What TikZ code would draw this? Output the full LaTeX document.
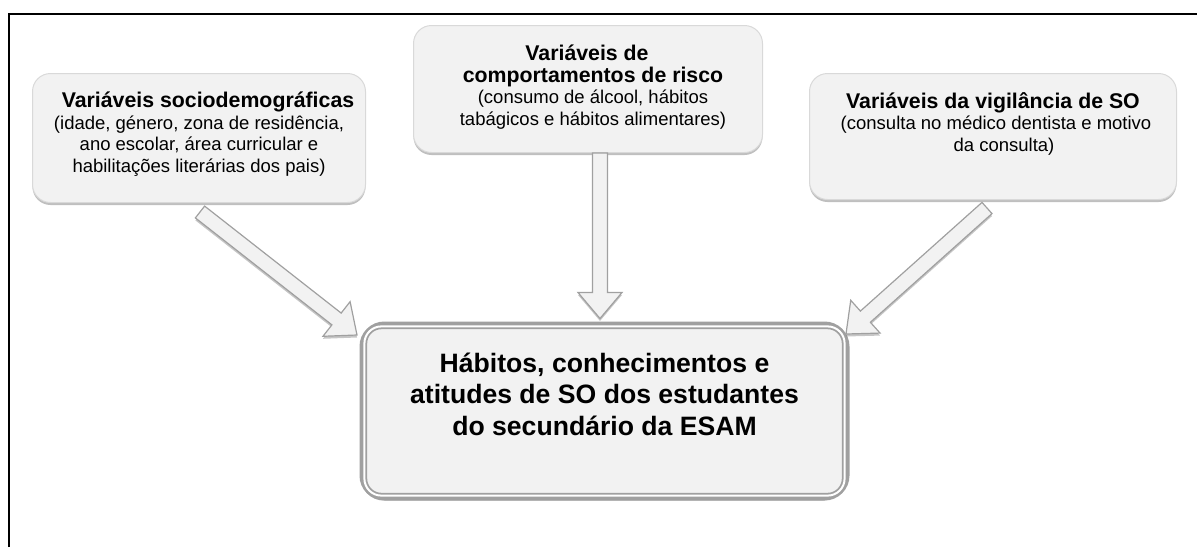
\documentclass[tikz,border=0pt]{standalone}
\usepackage{fontspec}
\setmainfont{Liberation Sans}
\usetikzlibrary{positioning,calc,shadows}
\definecolor{boxfill}{HTML}{F2F2F2}
\definecolor{boxline}{HTML}{D9D9D9}
\definecolor{ringgray}{HTML}{A0A0A0}
\tikzset{
    var box/.style={rectangle, draw=boxline, fill=boxfill, line width=1pt, rounded corners=18pt,
        drop shadow={shadow xshift=0pt, shadow yshift=-2.5pt, fill=gray, opacity=.5}},
    var text/.style={inner sep=0pt, align=center, font=\fontsize{18.5}{21.5}\selectfont},
    main box/.style={rectangle, draw=ringgray, fill=boxfill, line width=6pt, rounded corners=22pt,
        drop shadow={shadow xshift=-1pt, shadow yshift=-3pt, fill=gray, opacity=.45}},
    main ring/.style={draw=ringgray, line width=1.8pt, double=white, double distance=2pt, rounded corners=17pt},
    main text/.style={inner sep=0pt, align=center, font=\bfseries\fontsize{26.6}{31.5}\selectfont},
    block arrow/.style={draw=ringgray, fill=boxfill, line width=1.2pt, line join=miter,
        drop shadow={shadow xshift=0pt, shadow yshift=-2.5pt, fill=gray, opacity=.45}}
}
\newcommand{\varhead}[1]{{\bfseries\fontsize{21.3}{23}\selectfont #1}}
% #1 name, #2 tail, #3 tip
\newcommand{\blockarrow}[3]{%
    \coordinate (#1b) at ($(#3)!26pt!(#2)$);
    \draw[block arrow] ($(#2)!7.5pt!90:(#3)$) -- ($(#1b)!7.5pt!-90:(#2)$) -- ($(#1b)!22pt!-90:(#2)$)
        -- (#3) -- ($(#1b)!22pt!90:(#2)$) -- ($(#1b)!7.5pt!90:(#2)$) -- ($(#2)!7.5pt!-90:(#3)$) -- cycle;
}

\begin{document}
\begin{tikzpicture}[x=1pt, y=-1pt]
    \useasboundingbox (0,0) rectangle (1197,547);
    \draw[line width=2pt] (9,547) -- (9,14) -- (1197,14);

    % the three groups of variables
    \node[var box, minimum width=333, minimum height=129] (socio) at (199,138) {};
    \node[var text, below=19pt of socio.north] (sociotxt)
        {\hspace*{18pt}\varhead{Variáveis sociodemográficas}\\
         (idade, género, zona de residência,\hspace*{22pt}\\
         ano escolar, área curricular e\hspace*{12pt}\\
         habilitações literárias dos pais)};

    \node[var box, minimum width=349, minimum height=127] (risco) at (588,89) {};
    \node[var text, below=20pt of risco.north, xshift=5pt] (riscotxt)
        {\varhead{Variáveis de}\hspace*{12pt}\\
         \varhead{comportamentos de risco}\\
         (consumo de álcool, hábitos\\
         tabágicos e hábitos alimentares)};

    \node[var box, minimum width=367, minimum height=126] (vigil) at (993,136.5) {};
    \node[var text, below=19pt of vigil.north] (vigiltxt)
        {\varhead{Variáveis da vigilância de SO}\\
         \hspace*{6pt}(consulta no médico dentista e motivo\\
         \hspace*{22pt}da consulta)};

    % central box
    \node[main box, minimum width=484, minimum height=173] (main) at (604.5,411) {};
    \draw[main ring] ($(main.north west)+(4.9,4.9)$) rectangle ($(main.south east)+(-4.9,-4.9)$);
    \node[main text, below=31pt of main.north] (maintxt)
        {Hábitos, conhecimentos e\\
         atitudes de SO dos estudantes\\
         do secundário da ESAM};

    % arrows
    \coordinate (a1s) at ($(socio.south)+(1,9)$);
    \coordinate (a1t) at ($(main.north west)+(-2.5,13.5)$);
    \coordinate (a2s) at ($(risco.south)+(12,0)$);
    \coordinate (a2t) at ($(main.north)+(-4.5,-3)$);
    \coordinate (a3s) at ($(vigil.south)+(-6,8)$);
    \coordinate (a3t) at ($(main.north east)+(-3.5,12.5)$);
    \blockarrow{a1}{a1s}{a1t}
    \blockarrow{a2}{a2s}{a2t}
    \blockarrow{a3}{a3s}{a3t}
\end{tikzpicture}
\end{document}
